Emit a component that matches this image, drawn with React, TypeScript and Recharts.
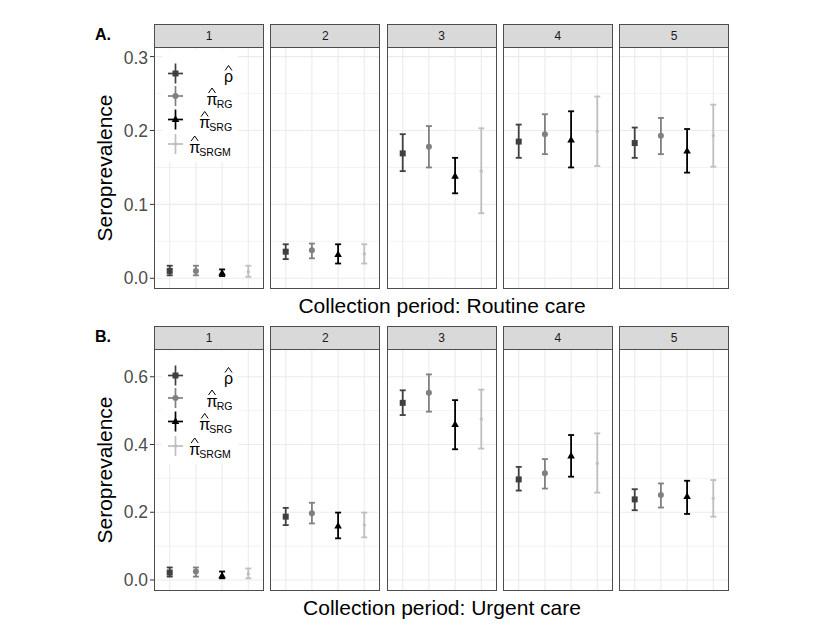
import { ScatterChart, Scatter, XAxis, YAxis, CartesianGrid, ErrorBar, ReferenceLine, Legend } from 'recharts';

type Est = [number, number, number]; // estimate, lower, upper

const periods = ['1', '2', '3', '4', '5'];

// Collection period: Routine care
const routineRho: Est[] = [[0.010, 0.004, 0.017], [0.036, 0.026, 0.046], [0.169, 0.145, 0.195], [0.185, 0.163, 0.208], [0.183, 0.163, 0.204]];
const routineRG: Est[] = [[0.010, 0.004, 0.017], [0.038, 0.027, 0.047], [0.178, 0.150, 0.206], [0.195, 0.168, 0.222], [0.193, 0.168, 0.217]];
const routineSRG: Est[] = [[0.007, 0.003, 0.012], [0.032, 0.020, 0.046], [0.138, 0.115, 0.163], [0.187, 0.150, 0.226], [0.172, 0.143, 0.202]];
const routineSRGM: Est[] = [[0.009, 0.002, 0.017], [0.033, 0.020, 0.046], [0.145, 0.088, 0.203], [0.199, 0.152, 0.246], [0.193, 0.151, 0.235]];

// Collection period: Urgent care
const urgentRho: Est[] = [[0.022, 0.010, 0.037], [0.187, 0.162, 0.213], [0.523, 0.487, 0.560], [0.297, 0.264, 0.334], [0.238, 0.206, 0.268]];
const urgentRG: Est[] = [[0.025, 0.010, 0.037], [0.197, 0.167, 0.228], [0.553, 0.497, 0.607], [0.315, 0.270, 0.357], [0.251, 0.214, 0.285]];
const urgentSRG: Est[] = [[0.012, 0.005, 0.025], [0.159, 0.123, 0.199], [0.459, 0.386, 0.531], [0.366, 0.305, 0.428], [0.246, 0.195, 0.293]];
const urgentSRGM: Est[] = [[0.018, 0.005, 0.034], [0.162, 0.126, 0.199], [0.475, 0.388, 0.562], [0.344, 0.258, 0.433], [0.241, 0.187, 0.295]];

const routineTicks = [0, 0.1, 0.2, 0.3];
const routineMinor = [0.05, 0.15, 0.25];
const urgentTicks = [0, 0.2, 0.4, 0.6];
const urgentMinor = [0.1, 0.3, 0.5];

const FONT = '"Liberation Sans", Arial, Helvetica, sans-serif';

const estimators = [
  { key: 'rho', glyph: 'ρ', sub: '', color: '#404040', kind: 'square' },
  { key: 'piRG', glyph: 'π', sub: 'RG', color: '#808080', kind: 'circle' },
  { key: 'piSRG', glyph: 'π', sub: 'SRG', color: '#000000', kind: 'triangle' },
  { key: 'piSRGM', glyph: 'π', sub: 'SRGM', color: '#BFBFBF', kind: 'dot' },
];

// legend label placement inside the white box (x of glyph centre, x where subscript starts, row y)
const legendLayout = [
  { gx: 66.5, sx: 0, y: 24.5 },
  { gx: 50, sx: 54.7, y: 47 },
  { gx: 42.7, sx: 47.3, y: 70.5 },
  { gx: 32.7, sx: 37.3, y: 95 },
];

const panelLefts = [154, 270.25, 386.5, 502.75, 619];
const PANEL_W = 110;
const PANEL_H = 242;
const AXIS_W = 50;

const Marker = ({ cx, cy, kind, color }: any) => {
  if (cx == null || cy == null) return null;
  if (kind === 'square') return <rect x={cx - 3} y={cy - 3} width={6} height={6} fill={color} />;
  if (kind === 'circle') return <circle cx={cx} cy={cy} r={3} fill={color} />;
  if (kind === 'triangle')
    return <polygon points={`${cx},${cy - 4.2} ${cx + 3.8},${cy + 2.4} ${cx - 3.8},${cy + 2.4}`} fill={color} />;
  return <circle cx={cx} cy={cy} r={1.7} fill={color} />;
};

const LegendBox = () => (
  <svg width={76} height={113} style={{ display: 'block', background: '#fff' }}>
    {estimators.map((e, i) => {
      const l = legendLayout[i];
      const kx = 13.5;
      return (
        <g key={e.key}>
          <line x1={kx} x2={kx} y1={l.y - 10} y2={l.y + 10} stroke={e.color} strokeWidth={1.7} />
          <line x1={kx - 7.5} x2={kx + 7.5} y1={l.y} y2={l.y} stroke={e.color} strokeWidth={1.7} />
          <Marker cx={kx} cy={l.y} kind={e.kind} color={e.color} />
          <text x={l.gx} y={l.y + 8.5} textAnchor="middle" fontSize={16} fontFamily={FONT} fill="#000">
            {e.glyph}
          </text>
          <polyline
            points={`${l.gx - 3.5},${l.y - 3} ${l.gx},${l.y - 8} ${l.gx + 3.5},${l.y - 3}`}
            fill="none"
            stroke="#000"
            strokeWidth={1}
          />
          {e.sub && (
            <text x={l.sx} y={l.y + 11.5} fontSize={10.5} fontFamily={FONT} fill="#000">
              {e.sub}
            </text>
          )}
        </g>
      );
    })}
  </svg>
);

const Panel = ({ idx, top, sets, ticks, minor, domain }: any) => {
  const withAxis = idx === 0;
  const width = withAxis ? PANEL_W + AXIS_W : PANEL_W;
  const left = withAxis ? panelLefts[idx] - AXIS_W : panelLefts[idx];
  return (
    <div style={{ position: 'absolute', left, top, width, height: PANEL_H }}>
      <ScatterChart width={width} height={PANEL_H} margin={{ top: 0, right: 0, bottom: 0, left: 0 }}>
        <CartesianGrid horizontalValues={ticks} verticalValues={[1, 2, 3, 4]} stroke="#EBEBEB" strokeWidth={1.1} />
        {minor.map((m: number) => (
          <ReferenceLine key={m} y={m} stroke="#EBEBEB" strokeWidth={0.6} />
        ))}
        <XAxis type="number" dataKey="x" domain={[0.4, 4.6]} hide allowDataOverflow />
        <YAxis
          type="number"
          dataKey="y"
          domain={domain}
          ticks={ticks}
          allowDataOverflow
          hide={!withAxis}
          width={AXIS_W}
          axisLine={false}
          tickSize={4}
          tickLine={{ stroke: '#333333' }}
          tick={{ fontSize: 17.5, fill: '#4D4D4D', fontFamily: FONT }}
          tickFormatter={(v: number) => v.toFixed(1)}
        />
        {estimators.map((e, i) => {
          const [est, lo, hi] = sets[i][idx];
          const data = [{ x: i + 1, y: est, err: [est - lo, hi - est] }];
          return (
            <Scatter
              key={e.key}
              name={e.key}
              data={data}
              fill={e.color}
              isAnimationActive={false}
              shape={(p: any) => <Marker cx={p.cx} cy={p.cy} kind={e.kind} color={e.color} />}
            >
              <ErrorBar dataKey="err" direction="y" width={3} strokeWidth={1.8} stroke={e.color} isAnimationActive={false} />
            </Scatter>
          );
        })}
        {withAxis && (
          <Legend
            layout="vertical"
            align="center"
            verticalAlign="middle"
            content={() => <LegendBox />}
            wrapperStyle={{ position: 'absolute', left: AXIS_W + 8, top: 2, width: 76, height: 113 }}
          />
        )}
      </ScatterChart>
      <div
        style={{
          position: 'absolute',
          left: withAxis ? AXIS_W : 0,
          top: 0,
          width: PANEL_W,
          height: PANEL_H,
          border: '1px solid #4D4D4D',
          boxSizing: 'border-box',
          pointerEvents: 'none',
        }}
      />
    </div>
  );
};

const FacetRow = ({ stripTop, letter, title, sets, ticks, minor, domain }: any) => {
  const panelTop = stripTop + 23;
  return (
    <>
      {periods.map((p, i) => (
        <div
          key={`s${p}`}
          style={{
            position: 'absolute',
            left: panelLefts[i],
            top: stripTop,
            width: PANEL_W,
            height: 24,
            background: '#D9D9D9',
            border: '1px solid #4D4D4D',
            boxSizing: 'border-box',
            textAlign: 'center',
            fontFamily: FONT,
            fontSize: 12,
            lineHeight: '22px',
            color: '#1A1A1A',
          }}
        >
          {p}
        </div>
      ))}
      {periods.map((p, i) => (
        <Panel key={p} idx={i} top={panelTop} sets={sets} ticks={ticks} minor={minor} domain={domain} />
      ))}
      <svg width={830} height={642} style={{ position: 'absolute', left: 0, top: 0, pointerEvents: 'none' }}>
        <text x={95} y={stripTop + 15.5} fontSize={16} fontWeight="bold" fontFamily={FONT} fill="#000">
          {letter}
        </text>
        <text
          x={112}
          y={panelTop + PANEL_H / 2}
          transform={`rotate(-90 112 ${panelTop + PANEL_H / 2})`}
          textAnchor="middle"
          fontSize={21}
          fontFamily={FONT}
          fill="#000"
        >
          Seroprevalence
        </text>
        <text x={442} y={panelTop + PANEL_H + 24} textAnchor="middle" fontSize={21} fontFamily={FONT} fill="#000">
          {title}
        </text>
      </svg>
    </>
  );
};

export default function App() {
  return (
    <div style={{ position: 'absolute', left: 0, top: 0, width: 830, height: 642, background: '#fff' }}>
      <FacetRow
        stripTop={24}
        letter="A."
        title="Collection period: Routine care"
        sets={[routineRho, routineRG, routineSRG, routineSRGM]}
        ticks={routineTicks}
        minor={routineMinor}
        domain={[-0.0145, 0.313]}
      />
      <FacetRow
        stripTop={326}
        letter="B."
        title="Collection period: Urgent care"
        sets={[urgentRho, urgentRG, urgentSRG, urgentSRGM]}
        ticks={urgentTicks}
        minor={urgentMinor}
        domain={[-0.0325, 0.682]}
      />
    </div>
  );
}
